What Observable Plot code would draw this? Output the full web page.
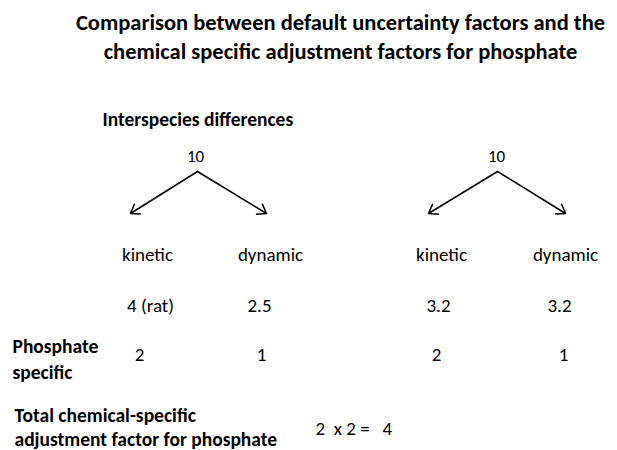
<!DOCTYPE html>
<html><head><meta charset="utf-8">
<script src="https://cdn.jsdelivr.net/npm/d3@7"></script>
<script src="https://cdn.jsdelivr.net/npm/@observablehq/plot@0.6"></script>
<style>body{margin:0;background:#fff;} svg{display:block;}</style>
</head><body><div id="chart"></div>
<script>
// ---- data ----
const titleLines = ["Comparison between default uncertainty factors and the", "chemical specific adjustment factors for phosphate"];
const sectionLabel = "Interspecies differences";
const groupTotals = ["10", "10"];
const components = ["kinetic", "dynamic"];
const defaultValues = [["4 (rat)", "2.5"], ["3.2", "3.2"]];
const phosphateValues = [["2", "1"], ["2", "1"]];
const phosphateLabel = ["Phosphate", "specific"];
const totalLabel = ["Total chemical-specific", "adjustment factor for phosphate"];
const totalExpression = "2  x 2 =   4";

// ---- layout (diagram units = pixels) ----
const W = 617, H = 450;
const FONT = "Carlito, Calibri, Lato, sans-serif";
const compX = [[147, 270], [441, 565]];
const valX = [[150, 259], [438, 559]];
const phosX = [[139, 261], [436, 563]];
const treeX = [197, 497];
const totalX = [195, 496];
const leafX = [[130, 266], [428, 565]];
const rowY = {title: [22.5, 51], section: 119, total: 156, apex: 171, leaf: 213, comp: 254, value: 305, phos: 354, phosLabel: [346, 372], sum: [415, 439], sumExpr: 428};

const titleData = titleLines.map((t, i) => ({t, x: 340, y: rowY.title[i]}));
const totalsData = groupTotals.map((t, g) => ({t, x: totalX[g], y: rowY.total}));
const arrows = groupTotals.flatMap((_, g) => components.map((c, k) => ({x1: treeX[g], y1: rowY.apex, x2: leafX[g][k], y2: rowY.leaf})));
const compData = groupTotals.flatMap((_, g) => components.map((c, k) => ({t: c, x: compX[g][k], y: rowY.comp})));
const valData = defaultValues.flatMap((vals, g) => vals.map((v, k) => ({t: v, x: valX[g][k], y: rowY.value})));
const phosData = phosphateValues.flatMap((vals, g) => vals.map((v, k) => ({t: v, x: phosX[g][k], y: rowY.phos})));
const phosLabData = phosphateLabel.map((t, i) => ({t, x: 12, y: rowY.phosLabel[i]}));
const sumLabData = totalLabel.map((t, i) => ({t, x: 14, y: rowY.sum[i]}));

const chart = Plot.plot({
  width: W, height: H,
  margin: 0,
  style: {fontFamily: FONT, background: "#fff", color: "#000"},
  x: {domain: [0, W], range: [0, W], axis: null},
  y: {domain: [0, H], range: [0, H], axis: null},
  marks: [
    Plot.text(titleData, {x: "x", y: "y", text: "t", fontSize: 22.5, fontWeight: "bold", fill: "#000"}),
    Plot.text([sectionLabel], {x: 102, y: rowY.section, text: d => d, textAnchor: "start", fontSize: 19.5, fontWeight: "bold", fill: "#000"}),
    Plot.text(totalsData, {x: "x", y: "y", text: "t", fontSize: 17, fill: "#000"}),
    Plot.arrow(arrows, {x1: "x1", y1: "y1", x2: "x2", y2: "y2", stroke: "#000", strokeWidth: 1.5, headLength: 10, headAngle: 70}),
    Plot.text(compData, {x: "x", y: "y", text: "t", fontSize: 19, fill: "#000"}),
    Plot.text(valData, {x: "x", y: "y", text: "t", fontSize: 19, fill: "#000"}),
    Plot.text(phosData, {x: "x", y: "y", text: "t", fontSize: 19, fill: "#000"}),
    Plot.text(phosLabData, {x: "x", y: "y", text: "t", textAnchor: "start", fontSize: 19.5, fontWeight: "bold", fill: "#000"}),
    Plot.text(sumLabData, {x: "x", y: "y", text: "t", textAnchor: "start", fontSize: 19.5, fontWeight: "bold", fill: "#000"}),
    Plot.text([totalExpression], {x: 315, y: rowY.sumExpr, text: d => d, textAnchor: "start", fontSize: 19, fill: "#000"})
  ]
});
document.getElementById("chart").appendChild(chart);
</script>
</body></html>
